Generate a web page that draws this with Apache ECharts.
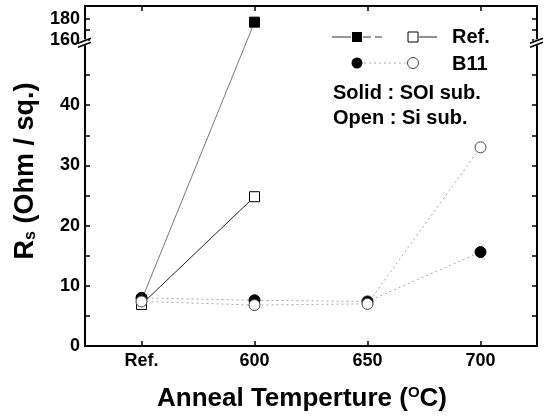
<!DOCTYPE html>
<html>
<head>
<meta charset="utf-8">
<script src="https://cdn.jsdelivr.net/npm/echarts@6/dist/echarts.min.js"></script>
<style>html,body{margin:0;padding:0;background:#fff}#c{width:547px;height:418px}</style>
</head>
<body>
<div id="c"></div>
<script>
// ---- data ----
var categories = ['Ref.', '600', '650', '700'];
var refSoi = [7.6, 177, null, null];   // filled squares
var refSi  = [6.9, 24.8, null, null];  // open squares
var b11Soi = [8.0, 7.6, 7.4, 15.6];    // filled circles
var b11Si  = [7.4, 6.8, 7.0, 33.0];    // open circles
var yLabelValues = [0, 10, 20, 30, 40, 160, 180];
var yTickValues = [0, 5, 10, 15, 20, 25, 30, 35, 40, 45, 160, 170, 180];

// ---- broken-axis scale: lower part 0..50 linear, upper part 160.. compressed ----
var BREAK_LOW = 50, UPPER_START = 160, UPPER_BASE = 50.83, UPPER_RATIO = 0.1745;
function fwd(v) {
  if (v == null) return null;
  return v <= BREAK_LOW ? v : UPPER_BASE + (v - UPPER_START) * UPPER_RATIO;
}
function inv(d) {
  if (d <= BREAK_LOW + 0.3) return Math.round(d);
  return Math.round(UPPER_START + (d - UPPER_BASE) / UPPER_RATIO);
}
var Y_MAX = 56.48, BREAK_AT = 50.45;

var FONT = 'Liberation Sans, Arial, Helvetica, sans-serif';
var chart = echarts.init(document.getElementById('c'), null, {renderer: 'canvas'});

function yAxisCfg(pos, showLabels) {
  return {
    type: 'value', position: pos, min: 0, max: Y_MAX,
    axisLine: {show: true, onZero: false, lineStyle: {color: '#000', width: 2}},
    axisTick: {show: true, inside: true, length: 5, customValues: yTickValues.map(fwd),
      lineStyle: {color: '#000', width: 1.5}},
    axisLabel: {show: showLabels, customValues: yLabelValues.map(fwd), margin: 5,
      formatter: function (v) { return String(inv(v)); },
      color: '#000', fontFamily: FONT, fontWeight: 'bold', fontSize: 18},
    splitLine: {show: false}
  };
}
function xAxisCfg(pos, showLabels) {
  return {
    type: 'category', position: pos, data: categories, boundaryGap: true,
    axisLine: {show: true, onZero: false, lineStyle: {color: '#000', width: 2}},
    axisTick: {show: true, inside: true, alignWithLabel: true, length: 5,
      lineStyle: {color: '#000', width: 1.5}},
    axisLabel: {show: showLabels, margin: 6, color: '#000', fontFamily: FONT,
      fontWeight: 'bold', fontSize: 18},
    splitLine: {show: false}
  };
}

function mk(name, data, symbol, size, fill, border, lineColor, lineType, lineWidth) {
  return {
    name: name, type: 'line', data: data.map(fwd), connectNulls: false,
    symbol: symbol, symbolSize: size, showSymbol: true,
    itemStyle: {color: fill, borderColor: border, borderWidth: 1},
    lineStyle: {color: lineColor, type: lineType, width: lineWidth},
    emphasis: {disabled: true}, animation: false, z: 3
  };
}

chart.setOption({
  animation: false,
  grid: {left: 85, right: 10, top: 6, bottom: 72, containLabel: false},
  xAxis: [xAxisCfg('bottom', true), xAxisCfg('top', false)],
  yAxis: [yAxisCfg('left', true), yAxisCfg('right', false)],
  series: [
    mk('Ref. SOI', refSoi, 'rect', 10, '#000', '#000', '#555', 'solid', 0.8),
    mk('Ref. Si', refSi, 'rect', 10, '#fff', '#000', '#222', 'solid', 1),
    mk('B11 SOI', b11Soi, 'circle', 11, '#000', '#000', '#a8a8a8', [2, 3], 1),
    mk('B11 Si', b11Si, 'circle', 11, '#fff', '#444', '#a8a8a8', [2, 3], 1)
  ]
});

// break marks + legend + titles
var x0 = chart.convertToPixel({xAxisIndex: 0}, 0), x1 = chart.convertToPixel({xAxisIndex: 0}, 1);
var yL = chart.convertToPixel({yAxisIndex: 0}, BREAK_AT);
var xL = x0 - (x1 - x0) / 2;
var xR = chart.convertToPixel({xAxisIndex: 0}, 3) + (x1 - x0) / 2;

function breakMark(x, y) {
  return [
    {type: 'rect', shape: {x: x - 3, y: y - 3, width: 6, height: 6}, style: {fill: '#fff'}, z: 50},
    {type: 'line', shape: {x1: x - 7, y1: y + 1, x2: x + 6, y2: y - 4}, style: {stroke: '#000', lineWidth: 1.6}, z: 51},
    {type: 'line', shape: {x1: x - 7, y1: y + 5, x2: x + 6, y2: y}, style: {stroke: '#000', lineWidth: 1.6}, z: 51}
  ];
}

var txt = {fill: '#000', fontFamily: FONT, fontWeight: 'bold', fontSize: 20, textVerticalAlign: 'middle'};
function T(x, y, s) {
  return {type: 'text', x: x, y: y, style: Object.assign({text: s}, txt), z: 60};
}

var g = [].concat(breakMark(xL, yL), breakMark(xR, yL), [
  // legend row 1: Ref.
  {type: 'line', shape: {x1: 332, y1: 37, x2: 351, y2: 37}, style: {stroke: '#333', lineWidth: 1}, z: 60},
  {type: 'line', shape: {x1: 363, y1: 37, x2: 382, y2: 37}, style: {stroke: '#333', lineWidth: 1, lineDash: [8, 4]}, z: 60},
  {type: 'rect', shape: {x: 352, y: 32, width: 10, height: 10}, style: {fill: '#000'}, z: 61},
  {type: 'rect', shape: {x: 408, y: 32, width: 10, height: 10}, style: {fill: '#fff', stroke: '#000', lineWidth: 1}, z: 61},
  {type: 'line', shape: {x1: 419, y1: 37, x2: 437, y2: 37}, style: {stroke: '#222', lineWidth: 1}, z: 60},
  T(452, 37, 'Ref.'),
  // legend row 2: B11
  {type: 'circle', shape: {cx: 357, cy: 63, r: 5.5}, style: {fill: '#000'}, z: 61},
  {type: 'line', shape: {x1: 364, y1: 63, x2: 406, y2: 63}, style: {stroke: '#a8a8a8', lineWidth: 1, lineDash: [2, 3]}, z: 60},
  {type: 'circle', shape: {cx: 413, cy: 63, r: 5.5}, style: {fill: '#fff', stroke: '#444', lineWidth: 1}, z: 61},
  T(452, 64, 'B11'),
  T(333, 93, 'Solid : SOI sub.'),
  T(333, 118, 'Open : Si sub.'),
  // x axis title
  {type: 'text', x: 302, y: 399, z: 60, style: {
    text: '{a|Anneal Temperture (}{s|O}{a|C)}', align: 'center', verticalAlign: 'middle',
    rich: {a: {fontFamily: FONT, fontWeight: 'bold', fontSize: 26, fill: '#000', lineHeight: 30},
           s: {fontFamily: FONT, fontWeight: 'bold', fontSize: 15, fill: '#000', lineHeight: 30, padding: [0, 0, 12, 0]}}}},
  // y axis title
  {type: 'text', x: 26, y: 171, rotation: Math.PI / 2, z: 60, style: {
    text: '{a|R}{s|s}{a| (Ohm / sq.)}', align: 'center', verticalAlign: 'middle',
    rich: {a: {fontFamily: FONT, fontWeight: 'bold', fontSize: 27, fill: '#000', lineHeight: 30},
           s: {fontFamily: FONT, fontWeight: 'bold', fontSize: 16, fill: '#000', lineHeight: 30, padding: [10, 0, 0, 0]}}}}
]);
chart.setOption({graphic: g});
</script>
</body>
</html>
